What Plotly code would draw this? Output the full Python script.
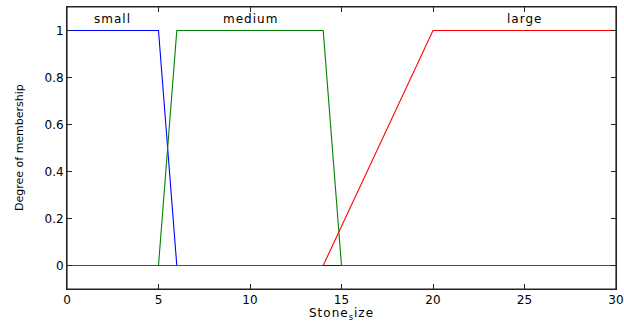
import plotly.graph_objects as go

small_x = [0, 5, 6, 30]
small_y = [1, 1, 0, 0]
medium_x = [0, 5, 6, 14, 15, 30]
medium_y = [0, 0, 1, 1, 0, 0]
large_x = [0, 14, 20, 30]
large_y = [0, 0, 1, 1]

label_names = ["small", "medium", "large"]
label_x = [2.5, 10, 25]

x_ticks = [0, 5, 10, 15, 20, 25, 30]
y_ticks = [0, 0.2, 0.4, 0.6, 0.8, 1]

FONT = "DejaVu Sans, Verdana, sans-serif"

fig = go.Figure()
fig.add_trace(go.Scatter(x=small_x, y=small_y, mode="lines",
                         line=dict(color="#0000ff", width=1.1), showlegend=False))
fig.add_trace(go.Scatter(x=medium_x, y=medium_y, mode="lines",
                         line=dict(color="#008000", width=1.1), showlegend=False))
fig.add_trace(go.Scatter(x=large_x, y=large_y, mode="lines",
                         line=dict(color="#ff0000", width=1.1), showlegend=False))

for name, lx in zip(label_names, label_x):
    fig.add_annotation(x=lx, y=1.05, xref="x", yref="y",
                       text='<span style="letter-spacing:1px">' + name + '</span>',
                       showarrow=False, font=dict(family=FONT, size=12, color="black"))

fig.add_annotation(x=0.5, y=-25/282, xref="paper", yref="paper",
                   text='<span style="letter-spacing:1px">Stone<sub>s</sub>ize</span>',
                   showarrow=False, yanchor="middle",
                   font=dict(family=FONT, size=12, color="black"))
fig.add_annotation(x=-48/549, y=0.5, xref="paper", yref="paper",
                   text="Degree of membership", showarrow=False, textangle=-90,
                   xanchor="center",
                   font=dict(family=FONT, size=11, color="black"))

fig.add_shape(type="rect", xref="paper", yref="paper", x0=0, y0=0, x1=1, y1=1,
              line=dict(color="#222222", width=1.2), layer="above")

axis_common = dict(showline=True, linecolor="#222222", linewidth=1, mirror="ticks",
                   ticks="inside", ticklen=5, tickcolor="#222222", showgrid=False,
                   zeroline=False, automargin=False,
                   tickfont=dict(family=FONT, size=12, color="black"))

fig.update_xaxes(range=[0, 30], tickvals=x_ticks, ticktext=[str(v) for v in x_ticks],
                 **axis_common)
fig.update_yaxes(range=[-0.1, 1.1], tickvals=y_ticks,
                 ticktext=["0", "0.2", "0.4", "0.6", "0.8", "1"], **axis_common)

fig.update_layout(width=624, height=322, margin=dict(l=67, r=8, t=7, b=33),
                  paper_bgcolor="white", plot_bgcolor="white",
                  font=dict(family=FONT, size=12, color="black"))

fig.write_html("out.html", config={"displayModeBar": False},
               post_script="document.body.style.margin='0px';")
